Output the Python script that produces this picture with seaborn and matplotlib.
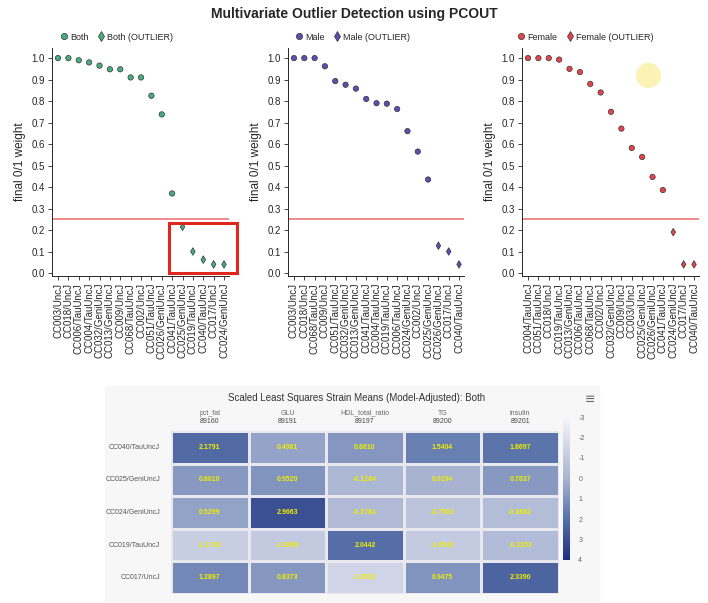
import matplotlib
matplotlib.use("Agg")
import matplotlib.pyplot as plt
from matplotlib.colors import LinearSegmentedColormap
from matplotlib.lines import Line2D
from matplotlib.patches import Rectangle
import numpy as np
import pandas as pd
import seaborn as sns

THRESHOLD = 0.25

both_strains = ["CC003/UncJ", "CC018/UncJ", "CC006/TauUncJ", "CC004/TauUncJ", "CC032/GeniUncJ",
                "CC013/GeniUncJ", "CC009/UncJ", "CC068/TauUncJ", "CC002/UncJ", "CC051/TauUncJ",
                "CC026/GeniUncJ", "CC041/TauUncJ", "CC025/GeniUncJ", "CC019/TauUncJ",
                "CC040/TauUncJ", "CC017/UncJ", "CC024/GeniUncJ"]
both_weights = [1.0, 1.0, 0.99, 0.98, 0.965, 0.948, 0.948, 0.91, 0.91, 0.825, 0.738, 0.37,
                0.215, 0.10, 0.062, 0.04, 0.04]

male_strains = ["CC003/UncJ", "CC018/UncJ", "CC068/TauUncJ", "CC009/UncJ", "CC051/TauUncJ",
                "CC032/GeniUncJ", "CC013/GeniUncJ", "CC041/TauUncJ", "CC004/TauUncJ",
                "CC019/TauUncJ", "CC006/TauUncJ", "CC024/GeniUncJ", "CC002/UncJ",
                "CC025/GeniUncJ", "CC026/GeniUncJ", "CC017/UncJ", "CC040/TauUncJ"]
male_weights = [1.0, 1.0, 1.0, 0.962, 0.893, 0.876, 0.858, 0.81, 0.79, 0.788, 0.763, 0.66,
                0.565, 0.435, 0.127, 0.10, 0.04]

female_strains = ["CC004/TauUncJ", "CC051/TauUncJ", "CC018/UncJ", "CC019/TauUncJ",
                  "CC013/GeniUncJ", "CC006/TauUncJ", "CC068/TauUncJ", "CC002/UncJ",
                  "CC032/GeniUncJ", "CC009/UncJ", "CC003/UncJ", "CC025/GeniUncJ",
                  "CC026/GeniUncJ", "CC041/TauUncJ", "CC024/GeniUncJ", "CC017/UncJ",
                  "CC040/TauUncJ"]
female_weights = [1.0, 1.0, 1.0, 0.993, 0.95, 0.935, 0.88, 0.84, 0.75, 0.672, 0.582, 0.54,
                  0.447, 0.386, 0.19, 0.04, 0.04]

groups = ["Both", "Male", "Female"]
group_colors = ["#45ad7e", "#5a4fb0", "#e5444d"]

heat_rows = ["CC040/TauUncJ", "CC025/GeniUncJ", "CC024/GeniUncJ", "CC019/TauUncJ", "CC017/UncJ"]
heat_cols = ["pct_fat", "GLU", "HDL_total_ratio", "TG", "insulin"]
heat_codes = ["89160", "89191", "89197", "89200", "89201"]
heat_values = [
    [2.1791, 0.4961, 0.8610, 1.5404, 1.8697],
    [0.8010, 0.9520, -0.1284, 0.0194, 0.7837],
    [0.5299, 2.9663, -0.2784, -0.7503, -0.3882],
    [-1.1720, -1.0009, 2.0442, -1.0542, -0.3253],
    [1.2897, 0.8373, -1.4532, 0.9475, 2.3390],
]

sns.set_style("ticks")
plt.rcParams["font.family"] = ["Liberation Sans", "DejaVu Sans"]
plt.rcParams["axes.unicode_minus"] = False

W, H = 708, 603
fig = plt.figure(figsize=(W / 100, H / 100), dpi=100)


def px_rect(x0, y0, x1, y1):
    return [x0 / W, 1 - y1 / H, (x1 - x0) / W, (y1 - y0) / H]


fig.text(0.5, 1 - 14 / H, "Multivariate Outlier Detection using PCOUT",
         ha="center", va="center", fontsize=10, fontweight="bold")

panels = [(both_strains, both_weights, 52, 229, 0.035),
          (male_strains, male_weights, 288, 464, 0.03),
          (female_strains, female_weights, 522, 699, -0.035)]

axes = []
for (strains, weights, x0, x1, lx), name, col in zip(panels, groups, group_colors):
    ax = fig.add_axes(px_rect(x0, 48, x1, 276))
    axes.append(ax)
    df = pd.DataFrame({"strain": strains, "weight": weights})
    df["kind"] = np.where(df["weight"] < THRESHOLD, "outlier", "normal")
    ax.axhline(THRESHOLD, color="#f08a8a", lw=1.4, zorder=1)
    sns.scatterplot(data=df, x="strain", y="weight", style="kind",
                    markers={"normal": "o", "outlier": "d"},
                    style_order=["normal", "outlier"],
                    color=col, edgecolor="#333333", linewidth=0.5, s=15,
                    legend=False, ax=ax, zorder=3)
    ax.set_xlim(-0.58, len(strains) - 0.52)
    ax.set_ylim(-0.014, 1.047)
    ax.set_yticks(np.arange(0, 1.01, 0.1))
    ax.set_yticklabels([f"{v:.1f}" for v in np.arange(0, 1.01, 0.1)])
    ax.tick_params(axis="y", labelsize=7, length=3, width=0.6, pad=2)
    ax.tick_params(axis="x", labelsize=7, length=3, width=0.6, pad=2, rotation=90)
    ax.set_xlabel("")
    ax.set_ylabel("final 0/1 weight", fontsize=8.5, labelpad=4)
    for s in ["left", "bottom"]:
        ax.spines[s].set_linewidth(0.7)
    sns.despine(ax=ax)
    handles = [Line2D([], [], marker="o", ls="", color=col, mec="#333333", mew=0.5, ms=4.5),
               Line2D([], [], marker="d", ls="", color=col, mec="#333333", mew=0.5, ms=5)]
    ax.legend(handles, [name, f"{name} (OUTLIER)"], loc="center left",
              bbox_to_anchor=(lx, 1.048), ncol=2, frameon=False, fontsize=6.5,
              handletextpad=0.1, columnspacing=0.8, borderpad=0, borderaxespad=0,
              handlelength=1.2)

# red highlight around the outliers in the first panel
axes[0].add_patch(Rectangle((10.7, 0.0), 6.55, 0.233, fill=False, ec="#e0271d", lw=2.2,
                            clip_on=False, zorder=5))
# cursor highlight in the third panel
axes[2].scatter([11.6], [0.92], s=330, color="#fbf1a9", alpha=0.85, lw=0, zorder=0.5)

# lower panel: heatmap
fig.patches.append(Rectangle((105 / W, 0), (599 - 105) / W, (603 - 386) / H,
                             transform=fig.transFigure, color="#f7f7f7", zorder=-1))
fig.text(357 / W, 1 - 398 / H, "Scaled Least Squares Strain Means (Model-Adjusted): Both",
         ha="center", va="center", fontsize=7, color="#333333")
fig.text(590 / W, 1 - 399 / H, "\u2261", ha="center", va="center", fontsize=9,
         color="#666666", family="DejaVu Sans")

hm = pd.DataFrame(heat_values, index=heat_rows, columns=heat_cols)
cmap = LinearSegmentedColormap.from_list(
    "slate", [(0, "#f6f6fb"), (3 / 7, "#a9b4d2"), (5 / 7, "#5670a8"), (1, "#1f2f7c")])
hax = fig.add_axes(px_rect(171, 431, 559, 594))
cax = fig.add_axes(px_rect(563, 417, 570, 560))
sns.heatmap(hm, ax=hax, cbar_ax=cax, cmap=cmap, vmin=-3, vmax=4, annot=True, fmt=".4f",
            annot_kws={"color": "#eeee00", "fontsize": 5, "fontweight": "bold"},
            linewidths=1, linecolor="#e8e8ee", xticklabels=False)
hax.tick_params(axis="y", length=0, labelsize=5, labelcolor="#555555", pad=8, rotation=0)
for i, (c, code) in enumerate(zip(heat_cols, heat_codes)):
    hax.text(i + 0.5, -0.55, c, ha="center", va="center", fontsize=5, color="#666666")
    hax.text(i + 0.5, -0.28, code, ha="center", va="center", fontsize=5, color="#444444")
cbar = hax.collections[0].colorbar
cbar.outline.set_visible(False)
cax.invert_yaxis()
cax.set_yticks(range(-3, 5))
cax.tick_params(length=0, labelsize=5, labelcolor="#666666", pad=6)

fig.savefig("out.png", dpi=100)
